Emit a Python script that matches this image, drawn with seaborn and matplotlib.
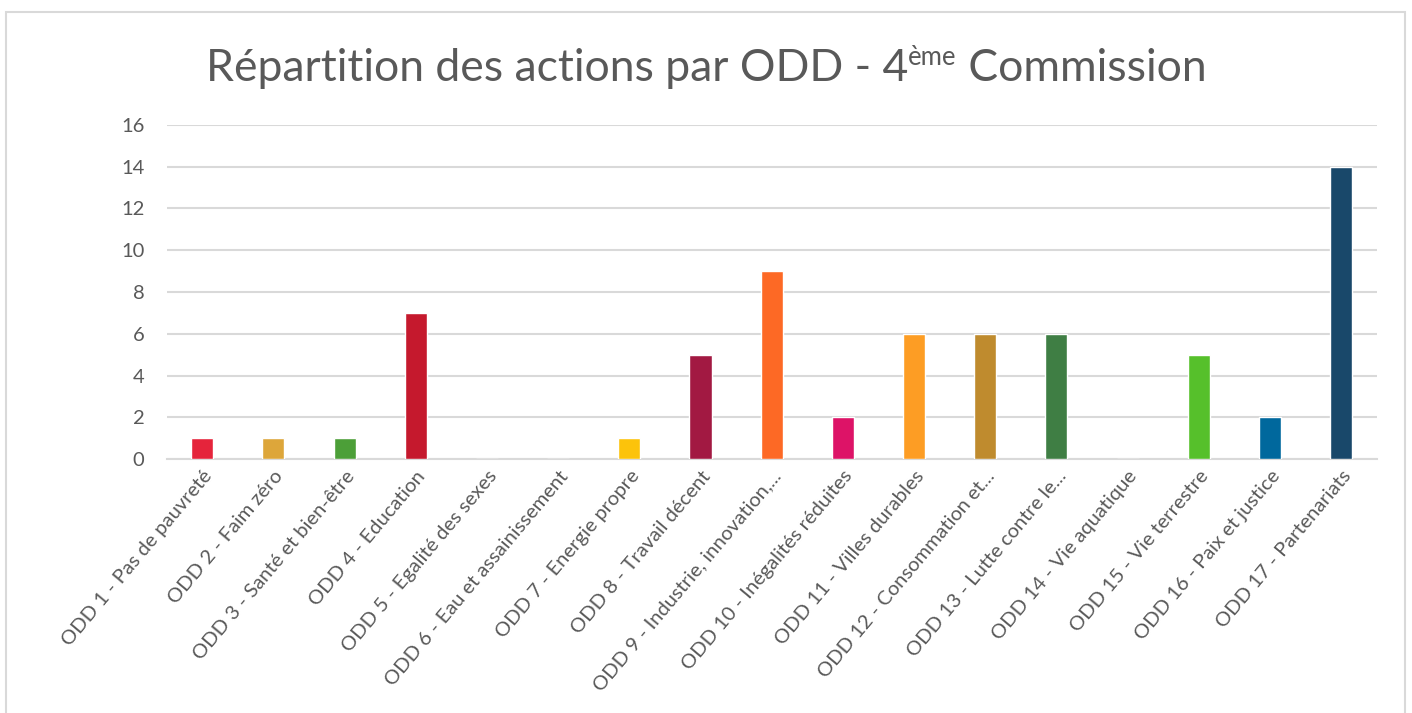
import matplotlib.pyplot as plt
import pandas as pd
import seaborn as sns
from matplotlib.patches import Rectangle

odd_labels = [
    "ODD 1 - Pas de pauvreté",
    "ODD 2 - Faim zéro",
    "ODD 3 - Santé et bien-être",
    "ODD 4 - Education",
    "ODD 5 - Egalité des sexes",
    "ODD 6 - Eau et assainissement",
    "ODD 7 - Energie propre",
    "ODD 8 - Travail décent",
    "ODD 9 - Industrie, innovation,...",
    "ODD 10 - Inégalités réduites",
    "ODD 11 - Villes durables",
    "ODD 12 - Consommation et...",
    "ODD 13 - Lutte contre le...",
    "ODD 14 - Vie aquatique",
    "ODD 15 - Vie terrestre",
    "ODD 16 - Paix et justice",
    "ODD 17 - Partenariats",
]
actions = [1, 1, 1, 7, 0, 0, 1, 5, 9, 2, 6, 6, 6, 0, 5, 2, 14]
odd_colors = [
    "#E5243B", "#DDA63A", "#4C9F38", "#C5192D", "#FF3A21", "#26BDE2",
    "#FCC30B", "#A21942", "#FD6925", "#DD1367", "#FD9D24", "#BF8B2E",
    "#3F7E44", "#0A97D9", "#56C02B", "#00689D", "#19486A",
]

df = pd.DataFrame({"odd": odd_labels, "actions": actions})

sns.set_style("white")
plt.rcParams["font.family"] = ["Lato", "DejaVu Sans"]
text_gray = "#595959"
grid_gray = "#D9D9D9"

fig = plt.figure(figsize=(14.12, 7.13), dpi=100)
ax = fig.add_axes([0.118, 0.356, 0.857, 0.469])

sns.barplot(data=df, x="odd", y="actions", hue="odd", palette=odd_colors,
            legend=False, width=0.31, saturation=1, ax=ax, zorder=3)

ax.set_ylim(0, 16)
ax.set_yticks(range(0, 17, 2))
ax.set_xlim(-0.5, len(odd_labels) - 0.5)
ax.yaxis.grid(True, color=grid_gray, linewidth=1.5, zorder=0)
ax.set_axisbelow(True)
for side in ["top", "right", "left"]:
    ax.spines[side].set_visible(False)
ax.spines["bottom"].set_color(grid_gray)
ax.spines["bottom"].set_linewidth(1.5)
ax.set_xlabel("")
ax.set_ylabel("")
ax.tick_params(axis="both", length=0, colors=text_gray)
ax.tick_params(axis="y", pad=16, labelsize=14.5)
ax.tick_params(axis="x", pad=6, labelsize=14.5)
plt.setp(ax.get_xticklabels(), rotation=50, ha="right", rotation_mode="anchor")

# title with superscript "ème"
fig.canvas.draw()
renderer = fig.canvas.get_renderer()
title_y = 0.887
size = 32
parts = [("Répartition des actions par ODD - 4", size, 0),
         ("ème", size * 0.58, 0.022),
         (" Commission", size, 0)]
texts = [fig.text(0, title_y + dy, s, fontsize=fs, color=text_gray, va="baseline")
         for s, fs, dy in parts]
widths = [t.get_window_extent(renderer).width / fig.bbox.width for t in texts]
x = 0.5 - sum(widths) / 2
for t, w in zip(texts, widths):
    t.set_x(x)
    x += w

fig.patches.append(Rectangle((0.004, -0.01), 0.991, 0.993, transform=fig.transFigure,
                             fill=False, edgecolor=grid_gray, linewidth=1.5))

fig.savefig("out.png", dpi=100)
